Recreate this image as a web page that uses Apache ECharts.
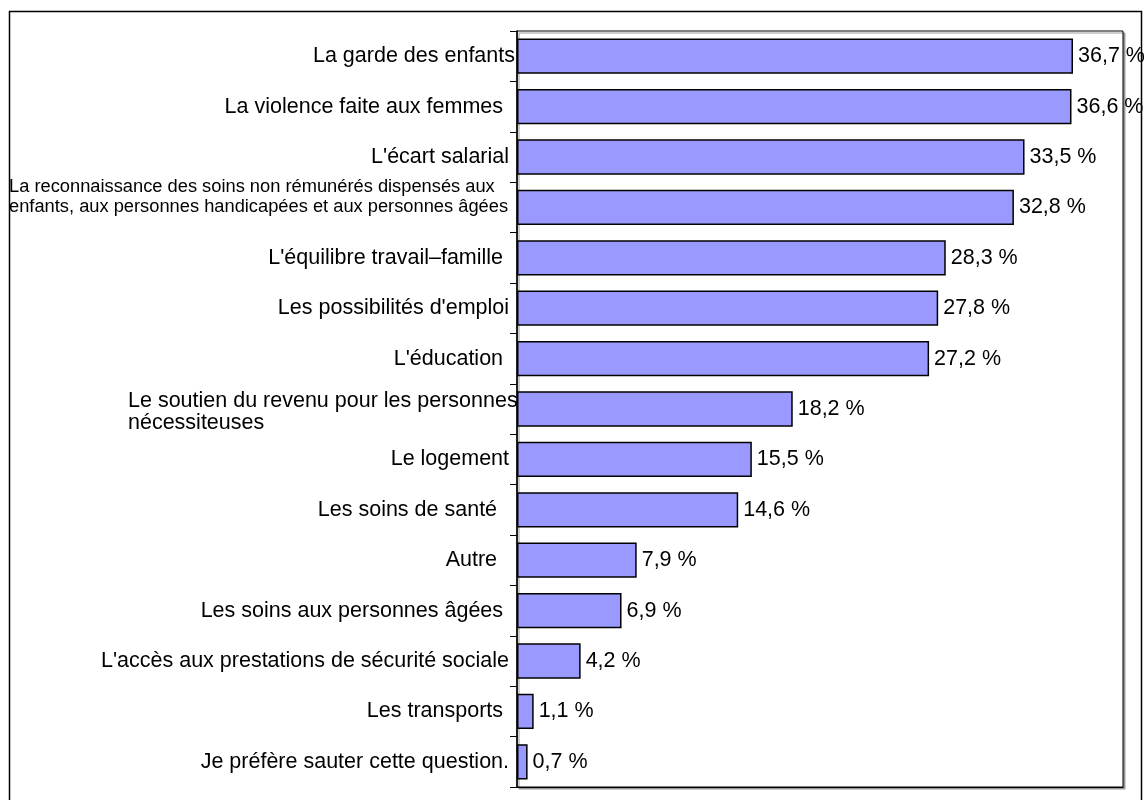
<!DOCTYPE html>
<html lang="fr">
<head>
    <meta charset="UTF-8">
    <title>Priorités</title>
    <script src="https://cdn.jsdelivr.net/npm/echarts@6/dist/echarts.min.js"></script>
    <style>
        html, body { margin: 0; padding: 0; background: #fff; }
        #main { width: 1144px; height: 800px; }
    </style>
</head>
<body>
    <div id="main"></div>
    <script>
        var categories = [
            "La garde des enfants",
            "La violence faite aux femmes  ",
            "L'écart salarial ",
            "La reconnaissance des soins non rémunérés dispensés aux \nenfants, aux personnes handicapées et aux personnes âgées",
            "L'équilibre travail–famille  ",
            "Les possibilités d'emploi ",
            "L'éducation  ",
            "Le soutien du revenu pour les personnes\nnécessiteuses",
            "Le logement ",
            "Les soins de santé   ",
            "Autre   ",
            "Les soins aux personnes âgées  ",
            "L'accès aux prestations de sécurité sociale ",
            "Les transports  ",
            "Je préfère sauter cette question. "
        ];
        var values = [36.7, 36.6, 33.5, 32.8, 28.3, 27.8, 27.2, 18.2, 15.5, 14.6, 7.9, 6.9, 4.2, 1.1, 0.7];

        var font = 'Arial, "Liberation Sans", sans-serif';
        var myChart = echarts.init(document.getElementById('main'));

        var option = {
            animation: false,
            backgroundColor: '#fff',
            grid: {
                left: 517,
                top: 31,
                right: 21,
                bottom: 13,
                show: true,
                backgroundColor: '#fff',
                borderColor: '#000',
                borderWidth: 1,
                shadowColor: '#999',
                shadowOffsetX: 2,
                shadowOffsetY: 2,
                shadowBlur: 0
            },
            graphic: [{
                type: 'rect',
                shape: { x: 9.5, y: 11.5, width: 1132, height: 820 },
                style: { fill: null, stroke: '#000', lineWidth: 1.5 },
                silent: true
            }],
            xAxis: {
                type: 'value',
                min: 0,
                max: 40,
                axisLine: { show: true, lineStyle: { color: '#000' } },
                axisTick: { show: false },
                axisLabel: { show: false },
                splitLine: { show: false }
            },
            yAxis: {
                type: 'category',
                inverse: true,
                data: categories,
                axisLine: { show: true, lineStyle: { color: '#000', width: 1.5 } },
                axisTick: { show: true, length: 7, lineStyle: { color: '#000' } },
                axisLabel: {
                    interval: 0,
                    margin: 2,
                    color: '#000',
                    fontSize: 21.5,
                    fontFamily: font,
                    formatter: function (v, i) {
                        var lines = v.split('\n');
                        if (lines.length === 1) return v;
                        var tag = v.indexOf('reconnaissance') >= 0 ? 'lg' : 'md';
                        var s = lines.map(function (l) { return '{' + tag + '|' + l + '}'; }).join('\n');
                        if (tag === 'lg') s += '\n{gap| }';
                        else s = '{gap2| }\n' + s;
                        return s;
                    },
                    rich: {
                        lg: { fontSize: 18.3, fontFamily: font, color: '#000', width: 506, align: 'left', lineHeight: 20 },
                        md: { fontSize: 21.5, fontFamily: font, color: '#000', width: 387, align: 'left', lineHeight: 22 },
                        gap: { fontSize: 1, lineHeight: 20 },
                        gap2: { fontSize: 1, lineHeight: 6 }
                    }
                }
            },
            series: [{
                type: 'bar',
                data: values,
                barCategoryGap: '30%',
                itemStyle: {
                    color: '#9999FF',
                    borderColor: '#000',
                    borderWidth: 1.5
                },
                label: {
                    show: true,
                    position: 'right',
                    distance: 5,
                    color: '#000',
                    fontSize: 21.5,
                    fontFamily: font,
                    formatter: function (p) {
                        return String(p.value).replace('.', ',') + ' %';
                    }
                }
            }]
        };

        myChart.setOption(option);
    </script>
</body>
</html>
